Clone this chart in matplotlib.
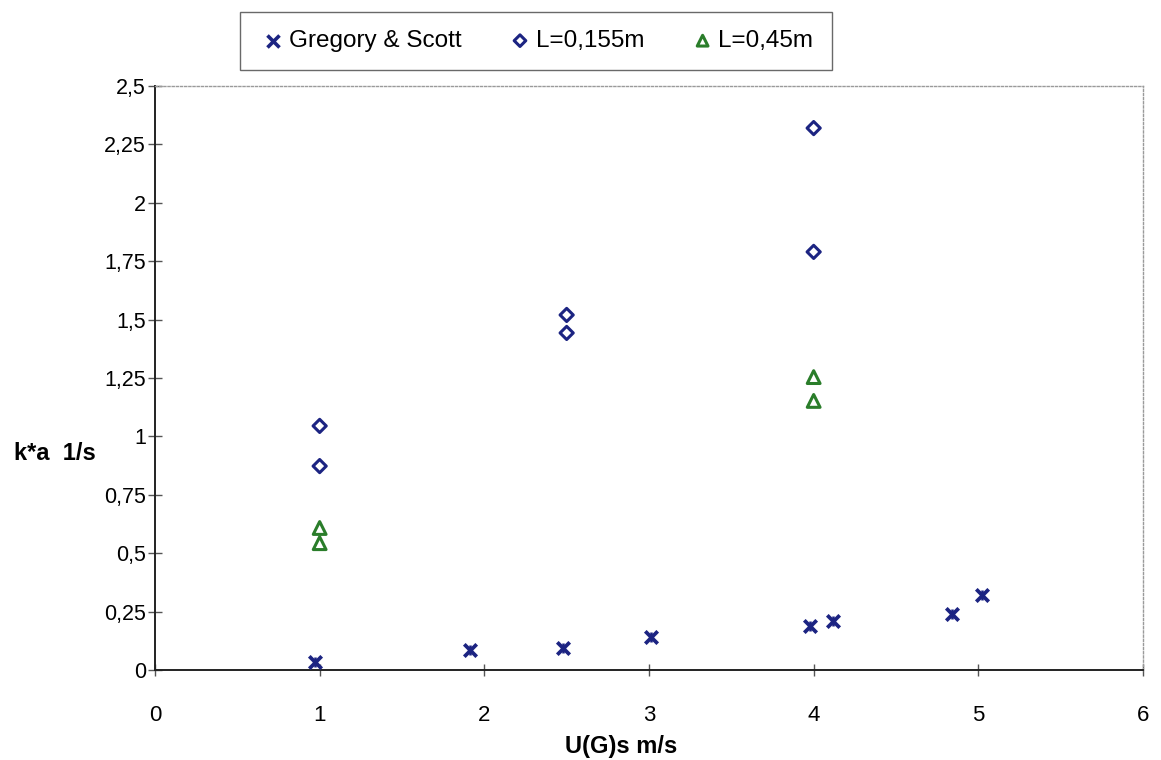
import matplotlib
matplotlib.use("Agg")
import matplotlib.pyplot as plt
from matplotlib.ticker import FuncFormatter

plt.rcParams['font.family'] = ['Liberation Sans', 'DejaVu Sans']

# Gregory & Scott reference data
gs_x = [0.97, 1.91, 2.48, 3.01, 3.98, 4.12, 4.84, 5.02]
gs_y = [0.035, 0.085, 0.095, 0.14, 0.19, 0.21, 0.24, 0.32]

# Column height L = 0,155 m
l155_x = [1, 1, 2.5, 2.5, 4, 4]
l155_y = [1.045, 0.873, 1.52, 1.443, 2.32, 1.79]

# Column height L = 0,45 m
l45_x = [1, 1, 4, 4]
l45_y = [0.608, 0.543, 1.254, 1.152]

x_ticks = [0, 1, 2, 3, 4, 5, 6]
y_ticks = [0, 0.25, 0.5, 0.75, 1, 1.25, 1.5, 1.75, 2, 2.25, 2.5]

navy = '#1c2482'
green = '#2a7d2a'

fig = plt.figure(figsize=(11.61, 7.60), dpi=100)
ax = fig.add_axes([0.1335, 0.1184, 0.8510, 0.7684])

# star marker: X crossed with a vertical stroke
ax.scatter(gs_x, gs_y, marker='x', s=80, color=navy, linewidths=2.7, zorder=3)
ax.scatter(gs_x, gs_y, marker='|', s=60, color=navy, linewidths=1.8, zorder=3)
ax.scatter(l155_x, l155_y, marker='D', s=45, facecolors='none',
           edgecolors=navy, linewidths=2.2, zorder=3)
ax.scatter(l45_x, l45_y, marker='^', s=85, facecolors='none',
           edgecolors=green, linewidths=2.2, zorder=3)

ax.set_xlim(0, 6)
ax.set_ylim(0, 2.5)
ax.set_xticks(x_ticks)
ax.set_yticks(y_ticks)


def comma_fmt(v, pos):
    s = f"{v:g}"
    return s.replace('.', ',')


ax.yaxis.set_major_formatter(FuncFormatter(comma_fmt))
ax.xaxis.set_major_formatter(FuncFormatter(comma_fmt))
ax.tick_params(axis='y', direction='inout', length=10, width=1, labelsize=15.5,
               pad=1.5, color='#555555')
ax.tick_params(axis='x', direction='inout', length=8, width=1, labelsize=16,
               pad=21, color='#555555')

for side in ('left', 'bottom'):
    ax.spines[side].set_color('#222222')
    ax.spines[side].set_linewidth(1.4)
for side in ('top', 'right'):
    ax.spines[side].set_color('#9a9a9a')
    ax.spines[side].set_linestyle((0, (1.5, 1.5)))
    ax.spines[side].set_linewidth(1.0)

fig.text(621 / 1161, 1 - 746 / 760, 'U(G)s m/s', fontsize=17, fontweight='bold',
         ha='center', va='center')
fig.text(55 / 1161, 1 - 453 / 760, 'k*a  1/s', fontsize=17, fontweight='bold',
         ha='center', va='center')

# Legend
h1 = ax.scatter([], [], marker='x', s=75, color=navy, linewidths=2.6)
h2 = ax.scatter([], [], marker='D', s=35, facecolors='none',
                edgecolors=navy, linewidths=2.2)
h3 = ax.scatter([], [], marker='^', s=60, facecolors='none',
                edgecolors=green, linewidths=2.2)
leg = fig.legend([h1, h2, h3], ['Gregory & Scott', 'L=0,155m', 'L=0,45m'],
                 loc='center', bbox_to_anchor=(0.4617, 0.946), ncol=3,
                 frameon=True, fancybox=False, fontsize=17.5,
                 handletextpad=0.05, columnspacing=1.8, borderpad=0.75,
                 handlelength=1.2)
leg.get_frame().set_edgecolor('#444444')
leg.get_frame().set_linewidth(1.0)

fig.savefig('out.png', dpi=100)
